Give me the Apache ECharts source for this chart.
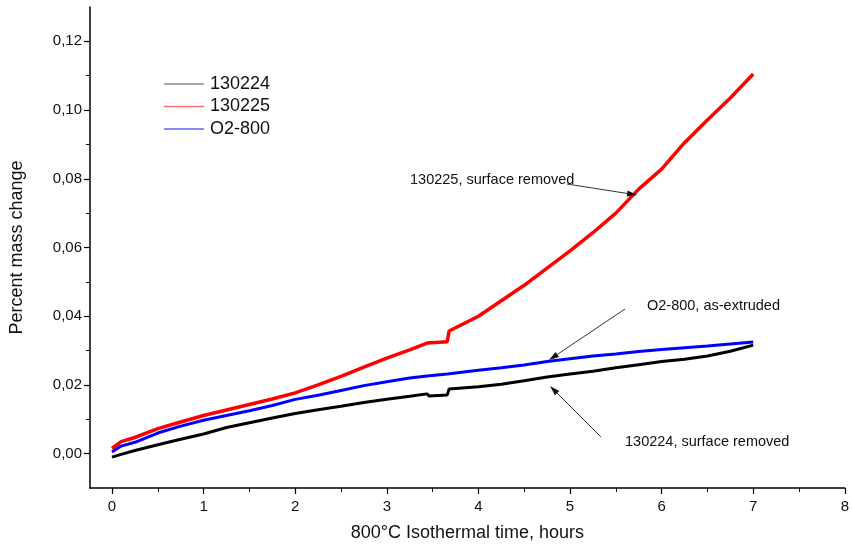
<!DOCTYPE html>
<html>
<head>
<meta charset="utf-8">
<script src="https://cdn.jsdelivr.net/npm/echarts@6/dist/echarts.min.js"></script>
<style>
  html, body { margin: 0; padding: 0; background: #fff; }
  #chart { width: 852px; height: 547px; }
</style>
</head>
<body>
<div id="chart"></div>
<script>
// ---- Data ----
const timeHours = [0, 0.1, 0.25, 0.5, 0.75, 1, 1.25, 1.5, 1.75, 2, 2.25, 2.5, 2.75, 3, 3.25, 3.44, 3.46, 3.66, 3.68, 4, 4.25, 4.5, 4.75, 5, 5.25, 5.5, 5.75, 6, 6.25, 6.5, 6.75, 7];

const s130224 = [-0.0010, -0.0002, 0.0009, 0.0026, 0.0042, 0.0057, 0.0076, 0.0090, 0.0104, 0.0117, 0.0128, 0.0138, 0.0149, 0.0158, 0.0167, 0.0174, 0.0168, 0.0171, 0.0188, 0.0195, 0.0202, 0.0212, 0.0223, 0.0232, 0.0240, 0.0250, 0.0259, 0.0268, 0.0275, 0.0284, 0.0298, 0.0316];

const s130225 = [0.0015, 0.0035, 0.0047, 0.0073, 0.0092, 0.0111, 0.0127, 0.0143, 0.0159, 0.0177, 0.0200, 0.0225, 0.0252, 0.0278, 0.0302, 0.0322, 0.0318, 0.0326, 0.0357, 0.0400, 0.0445, 0.0490, 0.0540, 0.0590, 0.0643, 0.0700, 0.0770, 0.0828, 0.0905, 0.0971, 0.1035, 0.1105];

const sO2800 = [0.0005, 0.0022, 0.0033, 0.0060, 0.0080, 0.0097, 0.0111, 0.0125, 0.0140, 0.0158, 0.0170, 0.0184, 0.0198, 0.0209, 0.0220, 0.0226, 0.0226, 0.0232, 0.0233, 0.0243, 0.0250, 0.0258, 0.0268, 0.0276, 0.0284, 0.0290, 0.0297, 0.0303, 0.0308, 0.0313, 0.0319, 0.0325];

const seriesNames = ['130224', '130225', 'O2-800'];

const xMajorTicks = [0, 1, 2, 3, 4, 5, 6, 7, 8];
const xMinorTicks = [0.5, 1.5, 2.5, 3.5, 4.5, 5.5, 6.5, 7.5];
const yMajorTicks = [0, 0.02, 0.04, 0.06, 0.08, 0.10, 0.12];
const yMinorTicks = [0.01, 0.03, 0.05, 0.07, 0.09, 0.11];

const annotations = [
  { text: '130225, surface removed', x: 410, y: 181, from: [567, 184], to: [637, 195] },
  { text: 'O2-800, as-extruded', x: 647, y: 307, from: [625, 309], to: [549, 360] },
  { text: '130224, surface removed', x: 625, y: 443, from: [601, 437], to: [550, 386] }
];

// ---- Build ----
function zip(xs, ys) { return xs.map((x, i) => [x, ys[i]]); }
const FONT = '"Liberation Sans", Arial, sans-serif';

const chart = echarts.init(document.getElementById('chart'), null, { renderer: 'canvas' });

const xMin = -0.24, xMax = 8, yMin = -0.01, yMax = 0.13;

function arrowGraphics(a) {
  const dx = a.to[0] - a.from[0], dy = a.to[1] - a.from[1];
  const len = Math.sqrt(dx * dx + dy * dy);
  const ux = dx / len, uy = dy / len;
  const hl = 10, hw = 3;
  const bx = a.to[0] - ux * hl, by = a.to[1] - uy * hl;
  return [
    { type: 'line', shape: { x1: a.from[0], y1: a.from[1], x2: bx, y2: by }, style: { stroke: '#333', lineWidth: 1 }, z: 100 },
    { type: 'polygon', shape: { points: [[a.to[0], a.to[1]], [bx - uy * hw, by + ux * hw], [bx + uy * hw, by - ux * hw]] }, style: { fill: '#111' }, z: 100 },
    { type: 'text', left: a.x, top: a.y - 9, style: { text: a.text, fill: '#111', font: '14.5px ' + FONT }, z: 100 }
  ];
}

const legendColors = ['#8a8a8a', '#ff7070', '#6060ff'];

const option = {
  animation: false,
  backgroundColor: '#fff',
  grid: { left: 89, right: 2, top: 7, bottom: 56, containLabel: false },
  legend: {
    orient: 'vertical',
    left: 159,
    top: 70,
    itemWidth: 40,
    itemHeight: 1.5,
    itemGap: 4.5,
    icon: 'rect',
    textStyle: { fontSize: 18, color: '#111', fontFamily: FONT, padding: [0, 0, 0, 1] },
    data: seriesNames.map((n, i) => ({ name: n, icon: 'rect', itemStyle: { color: legendColors[i], borderWidth: 0 } }))
  },
  xAxis: [
    {
      type: 'value', min: xMin, max: xMax, position: 'bottom',
      name: '800°C Isothermal time, hours', nameLocation: 'middle', nameGap: 36,
      nameTextStyle: { fontSize: 18, color: '#111', fontFamily: FONT },
      axisLine: { show: true, onZero: false, lineStyle: { color: '#000', width: 1.5 } },
      axisTick: { show: true, length: 6, customValues: xMajorTicks, lineStyle: { color: '#000', width: 1.2 } },
      axisLabel: { show: true, customValues: xMajorTicks, margin: 11, fontSize: 15, color: '#111', fontFamily: FONT, formatter: v => String(v) },
      splitLine: { show: false }
    },
    {
      type: 'value', min: xMin, max: xMax, position: 'bottom',
      axisLine: { show: false, onZero: false },
      axisTick: { show: true, length: 4, customValues: xMinorTicks, lineStyle: { color: '#000', width: 1 } },
      axisLabel: { show: false },
      splitLine: { show: false }
    }
  ],
  yAxis: [
    {
      type: 'value', min: yMin, max: yMax, position: 'left',
      name: 'Percent mass change', nameLocation: 'middle', nameGap: 64,
      nameTextStyle: { fontSize: 18, color: '#111', fontFamily: FONT },
      axisLine: { show: true, onZero: false, lineStyle: { color: '#000', width: 1.5 } },
      axisTick: { show: true, length: 6, customValues: yMajorTicks, lineStyle: { color: '#000', width: 1.2 } },
      axisLabel: { show: true, customValues: yMajorTicks, margin: 8, fontSize: 15, color: '#111', fontFamily: FONT, formatter: v => v.toFixed(2).replace('.', ',') },
      splitLine: { show: false }
    },
    {
      type: 'value', min: yMin, max: yMax, position: 'left',
      axisLine: { show: false, onZero: false },
      axisTick: { show: true, length: 4, customValues: yMinorTicks, lineStyle: { color: '#000', width: 1 } },
      axisLabel: { show: false },
      splitLine: { show: false }
    }
  ],
  series: [
    { name: seriesNames[0], type: 'line', xAxisIndex: 0, yAxisIndex: 0, symbol: 'none', data: zip(timeHours, s130224), lineStyle: { color: '#000000', width: 3 }, itemStyle: { color: '#000000' }, z: 3 },
    { name: seriesNames[1], type: 'line', xAxisIndex: 0, yAxisIndex: 0, symbol: 'none', data: zip(timeHours, s130225), lineStyle: { color: '#ff0000', width: 3.5 }, itemStyle: { color: '#ff0000' }, z: 4 },
    { name: seriesNames[2], type: 'line', xAxisIndex: 0, yAxisIndex: 0, symbol: 'none', data: zip(timeHours, sO2800), lineStyle: { color: '#0000ff', width: 3 }, itemStyle: { color: '#0000ff' }, z: 5 }
  ],
  graphic: annotations.flatMap(arrowGraphics)
};

chart.setOption(option);
</script>
</body>
</html>
